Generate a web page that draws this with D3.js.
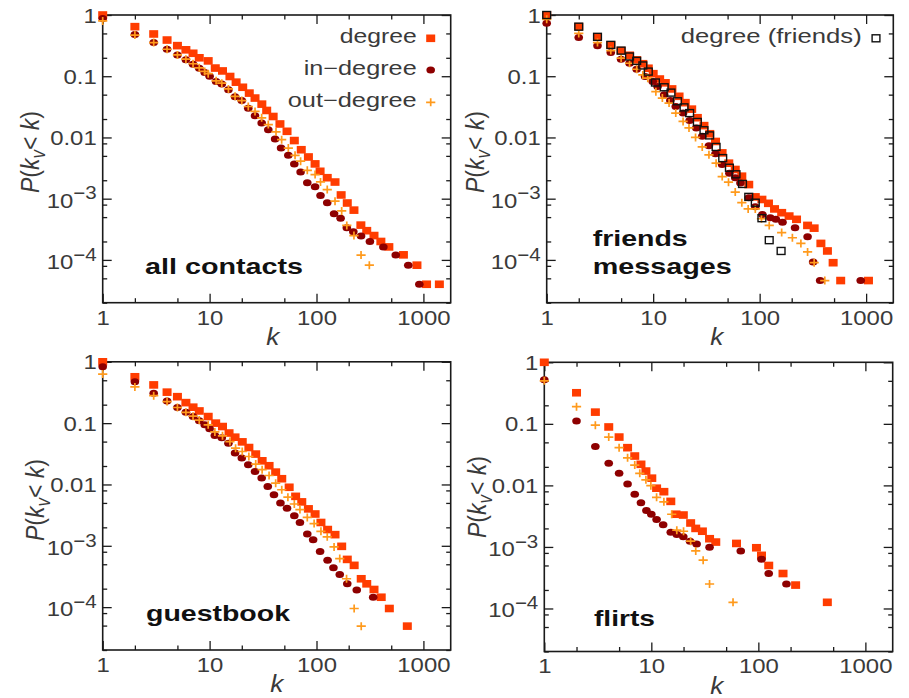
<!DOCTYPE html>
<html>
<head>
<meta charset="utf-8">
<script src="https://cdn.jsdelivr.net/npm/d3@7"></script>
<style>
  body { margin: 0; background: #fff; }
  svg { display: block; }
  text { font-family: "Liberation Sans", Arial, Helvetica, sans-serif; }
</style>
</head>
<body>
<div id="chart"></div>
<script>
// cumulative degree distributions, [k, P(k_v < k)]

// all contacts
const contactsDegree = [[1,1],[2,0.645],[3,0.49],[4,0.39],[5,0.316],[6,0.27],[7,0.237],[8,0.2],[9.7,0.178],[11.3,0.136],
  [13.2,0.122],[15.5,0.099],[17.7,0.08],[20.4,0.066],[23.5,0.053],[26.6,0.044],[30.8,0.035],[34.2,0.0276],[39.3,0.022],[45.5,0.0166],
  [53,0.0126],[62,0.0089],[72,0.0063],[84,0.0048],[97,0.0037],[108,0.0028],[126,0.0022],[149,0.00187],[170,0.00115],[194,0.00085],
  [224,0.00065],[260,0.00037],[295,0.0003],[345,0.00025],[400,0.0002],[475,0.000163],[650,0.000121],[870,8.2e-5],[1070,4e-5],[1410,4e-5]];
const contactsIn = [[1,0.88],[2,0.48],[3,0.355],[4,0.276],[5,0.223],[6,0.185],[7,0.157],[8,0.135],[9,0.115],[10,0.1],
  [11.5,0.082],[13,0.075],[15,0.06],[17.3,0.046],[20,0.04],[23,0.03],[26.6,0.0226],[30.7,0.0172],[35.4,0.0134],[41,0.0094],
  [46.6,0.0067],[54.5,0.0051],[62,0.0037],[71,0.00274],[82,0.00182],[97,0.00156],[109,0.00113],[126,0.00086],[146,0.00057],[168,0.00048],
  [192,0.000336],[221,0.000289],[261,0.000245],[316,0.0002],[422,0.000163],[551,0.00012],[722,8.2e-5],[916,4e-5]];
const contactsOut = [[1,0.8],[2,0.47],[3,0.355],[4,0.276],[5,0.223],[6,0.19],[7,0.16],[8,0.137],[9,0.12],[9.7,0.11],
  [11.5,0.084],[13,0.077],[15,0.062],[17.3,0.047],[20,0.04],[23,0.032],[26.6,0.0266],[30.7,0.0209],[35.4,0.0162],[41.8,0.0123],
  [47.2,0.0092],[54.5,0.0067],[63,0.0051],[71,0.0041],[82,0.0029],[97,0.00248],[109,0.00188],[126,0.00141],[149,0.00091],[172,0.00063],
  [192,0.000366],[224,0.00025],[261,0.00012],[312,8.2e-5]];

// friends / messages
const messagesDegree = [[1,1],[2,0.645],[3,0.44],[4,0.325],[5,0.262],[6,0.22],[7,0.185],[8,0.16],[9,0.135],[10,0.11],
  [11.5,0.09],[13,0.078],[15,0.062],[17.5,0.047],[20,0.037],[23,0.029],[26,0.021],[30,0.0156],[34,0.0115],[38.5,0.0086],
  [44.4,0.0056],[51.3,0.0038],[59,0.003],[68,0.00233],[79,0.0017],[91,0.00107],[105,0.00097],[121,0.00084],[138,0.00068],[161,0.00059],
  [189,0.00052],[222,0.00046],[282,0.000366],[325,0.00033],[376,0.000186],[433,0.00014],[490,9e-5],[577,4.6e-5],[1052,4.6e-5]];
const messagesIn = [[1,0.73],[2,0.43],[3,0.316],[4,0.243],[5,0.19],[6,0.163],[7,0.13],[8.4,0.099],[9.9,0.082],[11,0.068],
  [12.7,0.05],[14.5,0.04],[16.3,0.032],[19.1,0.025],[22,0.019],[25.4,0.0143],[28.9,0.0105],[33.4,0.0073],[38.5,0.0054],[44.4,0.0036],
  [52,0.0026],[59,0.0022],[66,0.0018],[79,0.00104],[91,0.00074],[106,0.00055],[126,0.00049],[142,0.00046],[164,0.000414],[215,0.000336],
  [282,0.00024],[318,9.2e-5],[370,4.6e-5],[890,4.6e-5]];
const messagesOut = [[1,0.85],[2,0.5],[3,0.354],[4,0.262],[5,0.197],[6,0.163],[7,0.13],[8,0.105],[8.9,0.093],[10.6,0.056],
  [12.2,0.044],[14.1,0.0365],[16.3,0.025],[19.1,0.0183],[21.7,0.0143],[25,0.01],[28.9,0.007],[33.4,0.0052],[39,0.0038],[44.5,0.0023],
  [51,0.00186],[59,0.00128],[68,0.00086],[78,0.00068],[91,0.00068],[104,0.00047],[123,0.000366],[161,0.00028],[203,0.00023],[244,0.000186],
  [282,0.000135],[325,9e-5],[409,4.6e-5]];
const friendsDegree = [[1,1],[2,0.645],[3,0.44],[4,0.325],[5,0.262],[6,0.21],[7,0.178],[8,0.15],[9,0.119],[10.5,0.079],
  [12.7,0.066],[14.7,0.054],[16.9,0.039],[19.5,0.031],[22,0.025],[26,0.0179],[30,0.0131],[33.9,0.0108],[39,0.007],[45,0.0046],
  [52,0.0032],[60,0.0025],[69,0.00174],[79,0.00107],[91,0.00086],[105,0.00048],[123,0.00021],[159,0.00014]];

// guestbook
const guestbookDegree = [[1,1],[2,0.57],[3,0.42],[4,0.32],[5,0.27],[6,0.216],[7,0.182],[8,0.158],[9.7,0.128],[11.4,0.1],
  [13.2,0.088],[15.2,0.069],[17.3,0.059],[20.2,0.0495],[23.3,0.04],[27,0.0313],[31,0.0243],[36,0.0202],[41.5,0.0159],[47.3,0.0124],
  [55.5,0.009],[63.8,0.0064],[72.8,0.0052],[84,0.004],[97,0.0033],[110,0.0024],[127,0.00184],[149,0.00152],[172,0.00098],[194,0.0006],
  [225,0.00048],[262,0.00029],[295,0.00024],[345,0.000194],[403,0.000145],[480,9.5e-5],[707,4.9e-5]];
const guestbookIn = [[1,0.83],[2,0.475],[3,0.307],[4,0.23],[5,0.18],[6,0.151],[7,0.128],[8,0.109],[9,0.094],[10,0.081],
  [11.2,0.063],[13,0.058],[15,0.047],[17.3,0.0325],[20,0.027],[23,0.021],[26.6,0.0163],[30.7,0.0127],[35,0.0093],[40,0.0068],
  [46,0.005],[53,0.0041],[62,0.0031],[70,0.0024],[82,0.00156],[93,0.00126],[108,0.00081],[127,0.00058],[144,0.00044],[165,0.00034],
  [194,0.00024],[238,0.00019],[339,0.000145]];
const guestbookOut = [[1,0.63],[2,0.39],[3,0.28],[4,0.225],[5,0.18],[6,0.15],[7,0.13],[8,0.112],[9.7,0.094],[11.2,0.072],
  [13.2,0.062],[15.5,0.05],[17.5,0.039],[20.2,0.0345],[23.3,0.0286],[27,0.0215],[31,0.0174],[36,0.014],[41.5,0.0105],[47.3,0.0082],
  [54,0.0062],[62,0.0048],[70,0.0039],[82,0.0029],[95,0.0023],[110,0.00172],[126,0.0014],[146,0.00096],[165,0.00062],[191,0.00029],
  [225,9.5e-5],[262,4.9e-5]];

// flirts
const flirtsDegree = [[1,1],[2,0.32],[3,0.155],[4,0.089],[5,0.061],[6,0.041],[7,0.03],[8,0.022],[8.9,0.0171],[10.1,0.0131],
  [11.2,0.009],[13.1,0.0079],[15.2,0.0055],[17,0.0034],[19.9,0.0033],[23.3,0.00245],[26,0.002],[30,0.0018],[35,0.00136],[40,0.0012],
  [62.5,0.00114],[96,0.00097],[107,0.00073],[125,0.0005],[170,0.00037],[223,0.00024],[441,0.000126]];
const flirtsIn = [[1,0.52],[2,0.111],[3,0.043],[4,0.0228],[5,0.0157],[6,0.0105],[7,0.0072],[8,0.0052],[9,0.0039],[10,0.0034],
  [11.2,0.0028],[12.9,0.0023],[15.2,0.00173],[17.3,0.00159],[19.9,0.00146],[23,0.00124],[26.5,0.00112],[35,0.00099],[68.5,0.00086],[107,0.00063],
  [125,0.00037],[183,0.00025]];
const flirtsOut = [[1,0.5],[2,0.19],[3,0.095],[4,0.061],[5,0.041],[6,0.028],[7,0.0214],[7.8,0.0157],[8.9,0.0123],[9.9,0.0099],
  [11.2,0.0064],[13.1,0.0054],[15.5,0.0034],[17.3,0.00187],[20,0.0018],[23.3,0.00124],[26,0.00086],[30.5,0.00061],[35,0.00025],[58,0.000126]];

// axes
const kDomain = [1, 1800];
const pDomain = [2e-5, 1];
const xMajor = [1, 10, 100, 1000];
const xMinor = [2, 5, 20, 50, 200, 500];
const yMajor = [1, 0.1, 0.01, 1e-3, 1e-4];
const yMinor = [0.5, 0.2, 0.05, 0.02, 0.008, 0.005, 0.002, 8e-4, 5e-4, 2e-4, 8e-5, 5e-5, 2e-5];
const yTickLabels = [["1", ""], ["0.1", ""], ["0.01", ""], ["10", "\u22123"], ["10", "\u22124"]];

const colors = {degree: "#ff3c00", in: "#8e0000", out: "#ff9a1c", friends: "#111"};
const textColor = "#3a3a3a";
const stretch = 1.14; // the picture is a bit wider than tall

const W = 909, H = 698;
const svg = d3.select("#chart").append("svg").attr("width", W).attr("height", H);

const panels = [
  {left: 102.7, right: 450.7, top: 15, bottom: 302.7, yLabX: 39, yLabY: 152, kX: 272.7,
   series: [[contactsDegree, "degree"], [contactsIn, "in"], [contactsOut, "out"]],
   names: [["all contacts", 145, 274, 158]],
   legend: [["degree", "degree", 43.3, 77], ["in\u2212degree", "in", 75, 113], ["out\u2212degree", "out", 107.3, 129]],
   legX: 430.7, legTextX: 416.7},
  {left: 546.7, right: 893.3, top: 15, bottom: 302.7, yLabX: 484, yLabY: 152, kX: 716.7,
   series: [[messagesDegree, "degree"], [messagesIn, "in"], [messagesOut, "out"], [friendsDegree, "friends"]],
   names: [["friends", 592.7, 246, 95], ["messages", 592.7, 274, 139]],
   legend: [["degree (friends)", "friends", 43.3, 181]],
   legX: 876, legTextX: 861.7},
  {left: 102.7, right: 450.7, top: 361.8, bottom: 650, yLabX: 44, yLabY: 500, kX: 276.7,
   series: [[guestbookDegree, "degree"], [guestbookIn, "in"], [guestbookOut, "out"]],
   names: [["guestbook", 146, 621, 144]], legend: []},
  {left: 544.3, right: 892.7, top: 362.3, bottom: 651.5, yLabX: 486, yLabY: 497, kX: 716.7,
   series: [[flirtsDegree, "degree"], [flirtsIn, "in"], [flirtsOut, "out"]],
   names: [["flirts", 594, 626, 61]], legend: []}
];

function addShape(sel, type) {
  if (type === "degree") {
    sel.append("rect").attr("x", -4.5).attr("y", -3.8).attr("width", 9).attr("height", 7.6)
      .attr("fill", colors.degree);
  } else if (type === "in") {
    sel.append("ellipse").attr("rx", 4.3).attr("ry", 3.5).attr("fill", colors.in);
  } else if (type === "out") {
    sel.append("path").attr("d", "M-4.6,0H4.6M0,-4V4")
      .attr("stroke", colors.out).attr("stroke-width", 1.7).attr("fill", "none");
  } else {
    sel.append("rect").attr("x", -3.9).attr("y", -3.5).attr("width", 7.8).attr("height", 7)
      .attr("fill", "none").attr("stroke", colors.friends).attr("stroke-width", 1.4);
  }
}

function drawPanel(p) {
  const x = d3.scaleLog().domain(kDomain).range([p.left, p.right]);
  const y = d3.scaleLog().domain(pDomain).range([p.bottom, p.top]);
  const g = svg.append("g");

  g.append("rect")
    .attr("x", p.left).attr("y", p.top)
    .attr("width", p.right - p.left).attr("height", p.bottom - p.top)
    .attr("fill", "none").attr("stroke", "#1a1a1a").attr("stroke-width", 1.6);

  // inward ticks on all four sides
  const sides = [
    [d3.axisBottom, `translate(0,${p.bottom})`, x, xMajor, xMinor],
    [d3.axisTop, `translate(0,${p.top})`, x, xMajor, xMinor],
    [d3.axisLeft, `translate(${p.left},0)`, y, yMajor, yMinor],
    [d3.axisRight, `translate(${p.right},0)`, y, yMajor, yMinor]
  ];
  sides.forEach(([axis, tr, sc, major, minor]) => {
    [[major, 9], [minor, 4.5]].forEach(([vals, len]) => {
      g.append("g").attr("transform", tr)
        .call(axis(sc).tickValues(vals).tickSize(-len).tickFormat(() => ""))
        .call(a => a.select(".domain").remove())
        .call(a => a.selectAll("text").remove())
        .selectAll("line").attr("stroke", "#1a1a1a").attr("stroke-width", 1.3);
    });
  });

  // x tick labels
  g.append("g").attr("transform", `translate(0,${p.bottom})`)
    .call(d3.axisBottom(x).tickValues(xMajor).tickSize(0).tickPadding(7).tickFormat(d3.format("d")))
    .call(a => a.select(".domain").remove())
    .selectAll("text")
    .attr("font-size", 21).attr("fill", textColor)
    .attr("font-family", "Liberation Sans, Arial, sans-serif")
    .attr("transform", `scale(${stretch},1)`);

  // y tick labels, with exponents
  yMajor.forEach((v, i) => {
    const [base, exp] = yTickLabels[i];
    const t = g.append("text")
      .attr("transform", `translate(${p.left - 6},${y(v)}) scale(${stretch},1)`)
      .attr("text-anchor", "end").attr("font-size", 21).attr("fill", textColor);
    if (exp) {
      t.append("tspan").attr("dy", "0.42em").text(base);
      t.append("tspan").attr("dy", "-0.45em").attr("font-size", 18).text(exp);
    } else {
      t.attr("dy", "0.36em").text(base);
    }
  });

  // axis titles
  g.append("text")
    .attr("transform", `translate(${p.kX},${p.bottom + 42}) scale(${stretch},1)`)
    .attr("text-anchor", "middle").attr("font-size", 23).attr("font-style", "italic")
    .attr("fill", textColor).text("k");

  const yl = g.append("text")
    .attr("transform", `translate(${p.yLabX},${p.yLabY}) rotate(-90) scale(1,${stretch})`)
    .attr("text-anchor", "middle").attr("font-size", 23).attr("fill", textColor);
  yl.append("tspan").attr("font-style", "italic").text("P");
  yl.append("tspan").text("(");
  yl.append("tspan").attr("font-style", "italic").text("k");
  yl.append("tspan").attr("font-style", "italic").attr("font-size", 17).attr("dy", 5).text("v");
  yl.append("tspan").attr("dy", -5).text("<");
  yl.append("tspan").attr("font-style", "italic").text(" k");
  yl.append("tspan").text(")");

  // data
  p.series.forEach(([data, type]) => {
    const marks = g.append("g").selectAll("g")
      .data(data).join("g")
      .attr("transform", d => `translate(${x(d[0])},${y(d[1])})`);
    addShape(marks, type);
  });

  // legend
  p.legend.forEach(([label, type, base, len]) => {
    g.append("text")
      .attr("x", p.legTextX).attr("y", base)
      .attr("text-anchor", "end").attr("font-size", 20).attr("fill", textColor)
      .attr("textLength", len).attr("lengthAdjust", "spacingAndGlyphs")
      .text(label);
    addShape(g.append("g").attr("transform", `translate(${p.legX},${base - 5})`), type);
  });

  // panel name
  p.names.forEach(([label, lx, base, len]) => {
    g.append("text")
      .attr("x", lx).attr("y", base)
      .attr("font-size", 22).attr("font-weight", "bold").attr("fill", "#111")
      .attr("textLength", len).attr("lengthAdjust", "spacingAndGlyphs")
      .text(label);
  });
}

panels.forEach(drawPanel);
</script>
</body>
</html>
